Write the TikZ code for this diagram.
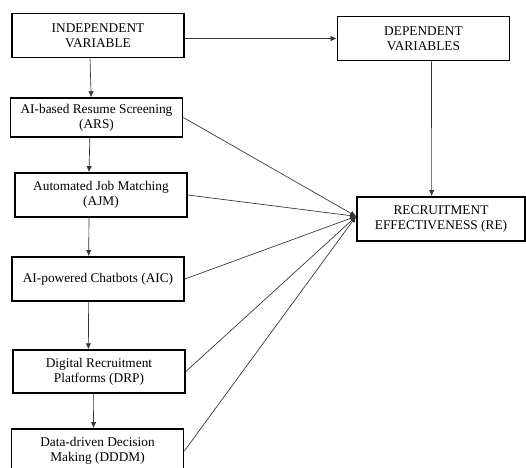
\documentclass[tikz,border=0pt]{standalone}
\usepackage{fontspec}
\setmainfont{Liberation Serif}
\usetikzlibrary{arrows.meta,positioning}

\begin{document}
\begin{tikzpicture}[
  x=0.75pt, y=-0.75pt,
  >={Latex[length=4.5pt,width=4pt]},
  every node/.style={font=\fontsize{10}{11.5}\selectfont},
  box/.style={draw, line width=1.3pt, align=center, minimum width=129pt, minimum height=33pt, inner sep=2pt},
  link/.style={->, draw=black!80, line width=0.5pt}
]
\useasboundingbox (0,0) rectangle (526,468);

\node[box] (IV) at (98,35.5) {INDEPENDENT\\VARIABLE};
\node[box] (DV) at (423.5,38.5) {DEPENDENT\\VARIABLES};
\node[box, minimum height=29pt] (ARS) at (96.5,117.5) {AI-based Resume Screening\\(ARS)};
\node[box] (AJM) at (101,195) {Automated Job Matching\\(AJM)};
\node[box] (AIC) at (98,279) {AI-powered Chatbots (AIC)};
\node[box, minimum height=32pt] (DRP) at (99,371.5) {Digital Recruitment\\Platforms (DRP)};
\node[box] (DDDM) at (97.5,451) {Data-driven Decision\\Making (DDDM)};
\node[box, minimum width=126pt] (RE) at (441,219) {RECRUITMENT\\EFFECTIVENESS (RE)};

\draw[link] (IV.east |- DV.west) -- (DV.west);
\draw[link] ([xshift=-6pt]IV.south) -- ([xshift=-4pt]ARS.north);
\draw[link] ([xshift=-5pt]ARS.south) -- ([xshift=-9pt]AJM.north);
\draw[link] ([xshift=-9pt]AJM.south) -- ([xshift=-7pt]AIC.north);
\draw[link] ([xshift=-7pt]AIC.south) -- ([xshift=-8pt]DRP.north);
\draw[link] ([xshift=-4pt]DRP.south) -- ([xshift=-3pt]DDDM.north);
\draw[link] ([xshift=6pt]DV.south) -- ([xshift=-7pt]RE.north);

\foreach \src in {ARS,AJM,AIC,DRP,DDDM}
  \draw[link] (\src.east) -- ([yshift=2pt]RE.west);

\end{tikzpicture}
\end{document}
